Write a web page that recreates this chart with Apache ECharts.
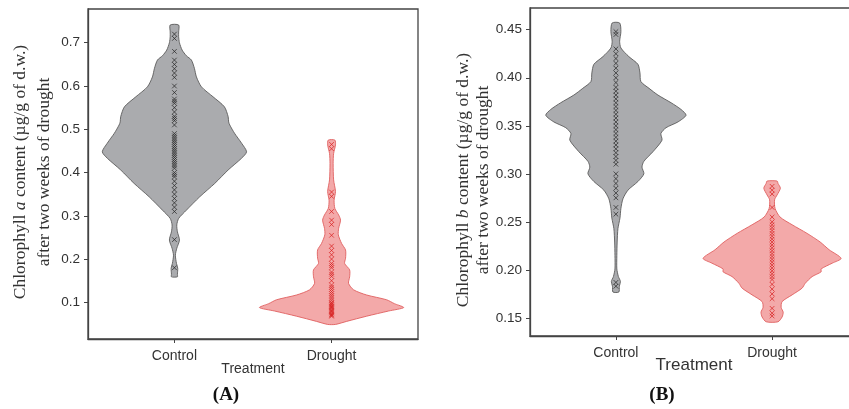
<!DOCTYPE html>
<html>
<head>
<meta charset="utf-8">
<script src="https://cdn.jsdelivr.net/npm/echarts@6/dist/echarts.min.js"></script>
<style>
html,body{margin:0;padding:0;background:#fff;}
#chart{width:849px;height:409px;}
</style>
</head>
<body>
<div id="chart"></div>
<script>
// ---------- DATA ----------
const categories = ['Control', 'Drought'];
const yTicksA = [0.1, 0.2, 0.3, 0.4, 0.5, 0.6, 0.7];
const yTicksB = [0.15, 0.20, 0.25, 0.30, 0.35, 0.40, 0.45];

// violin outlines: [value, half-width in category units]
const violinA_control = [
  [0.741,0.027],[0.725,0.027],[0.714,0.027],[0.700,0.032],[0.683,0.049],[0.670,0.076],
  [0.660,0.108],[0.641,0.127],[0.621,0.140],[0.598,0.172],[0.575,0.246],[0.552,0.318],
  [0.529,0.342],[0.517,0.345],[0.510,0.352],[0.491,0.382],[0.468,0.427],[0.448,0.459],
  [0.433,0.427],[0.406,0.342],[0.375,0.257],[0.344,0.161],[0.313,0.076],[0.294,0.027],
  [0.279,0.015],[0.263,0.019],[0.244,0.032],[0.225,0.015],[0.209,0.006],[0.190,0.013],
  [0.179,0.021],[0.165,0.019],[0.159,0.019]
];
const violinA_drought = [
  [0.475,0.021],[0.464,0.025],[0.444,0.013],[0.421,0.010],[0.383,0.013],[0.356,0.025],
  [0.336,0.016],[0.317,0.021],[0.302,0.045],[0.290,0.057],[0.271,0.045],[0.256,0.043],
  [0.236,0.064],[0.221,0.089],[0.202,0.089],[0.190,0.083],[0.175,0.115],[0.159,0.115],
  [0.144,0.108],[0.129,0.140],[0.117,0.223],[0.106,0.350],[0.097,0.400],[0.088,0.459],
  [0.080,0.363],[0.068,0.223],[0.056,0.096],[0.049,0.025]
];
const violinB_control = [
  [0.457,0.024],[0.448,0.032],[0.438,0.024],[0.431,0.032],[0.422,0.083],[0.414,0.141],
  [0.405,0.154],[0.396,0.160],[0.389,0.212],[0.382,0.269],[0.374,0.353],[0.367,0.417],
  [0.361,0.449],[0.354,0.397],[0.348,0.321],[0.342,0.288],[0.335,0.295],[0.323,0.237],
  [0.313,0.179],[0.307,0.167],[0.300,0.179],[0.292,0.141],[0.283,0.077],[0.274,0.045],
  [0.264,0.032],[0.254,0.026],[0.243,0.013],[0.229,0.008],[0.215,0.006],[0.201,0.006],
  [0.193,0.016],[0.188,0.029],[0.183,0.022],[0.177,0.019]
];
const violinB_drought = [
  [0.2925,0.032],[0.290,0.038],[0.285,0.053],[0.278,0.032],[0.273,0.016],[0.264,0.019],
  [0.255,0.051],[0.247,0.128],[0.238,0.224],[0.229,0.308],[0.221,0.365],[0.212,0.442],
  [0.207,0.385],[0.201,0.314],[0.198,0.314],[0.193,0.256],[0.186,0.212],[0.181,0.192],
  [0.174,0.128],[0.167,0.064],[0.161,0.058],[0.156,0.071],[0.151,0.064],[0.146,0.038]
];

// individual observations
const pointsA_control = [0.72,0.71,0.68,0.66,0.65,0.64,0.63,0.62,0.60,0.585,0.57,0.565,0.56,0.55,0.54,
  0.53,0.525,0.52,0.51,0.49,0.485,0.48,0.475,0.47,0.465,0.46,0.455,0.45,0.445,0.44,0.435,0.43,0.425,
  0.42,0.415,0.41,0.40,0.395,0.39,0.38,0.37,0.36,0.35,0.34,0.33,0.32,0.31,0.245,0.18];
const pointsA_drought = [0.465,0.455,0.355,0.345,0.31,0.29,0.28,0.255,0.23,0.22,0.21,0.20,0.19,0.185,
  0.18,0.17,0.165,0.16,0.15,0.14,0.135,0.13,0.125,0.12,0.115,0.11,0.105,0.10,0.098,0.095,0.092,0.09,
  0.088,0.085,0.082,0.08,0.078,0.075,0.072,0.07,0.068];
const pointsB_control = [0.448,0.445,0.43,0.425,0.42,0.415,0.41,0.405,0.40,0.395,0.39,0.386,0.382,
  0.378,0.374,0.37,0.366,0.362,0.358,0.354,0.35,0.346,0.342,0.338,0.334,0.33,0.326,0.322,0.318,0.314,
  0.31,0.30,0.295,0.29,0.285,0.28,0.275,0.265,0.258,0.187,0.183];
const pointsB_drought = [0.287,0.283,0.279,0.265,0.255,0.25,0.247,0.244,0.241,0.238,0.235,0.232,0.229,
  0.226,0.223,0.22,0.217,0.214,0.211,0.208,0.205,0.202,0.199,0.196,0.193,0.19,0.185,0.18,0.175,0.17,
  0.16,0.155,0.152];

// ---------- CHART ----------
const chart = echarts.init(document.getElementById('chart'), null, {renderer: 'canvas'});
const AX = '#444';
const sans = '"Liberation Sans", Arial, sans-serif';
const serif = '"Liberation Serif", "Times New Roman", serif';

function violinSeries(gi, center, profile, fill, stroke) {
  return {
    type: 'custom', xAxisIndex: gi, yAxisIndex: gi, silent: true, z: 2,
    data: [[center]],
    renderItem: function (params, api) {
      const c = api.value(0);
      const pts = [];
      for (let i = 0; i < profile.length; i++) pts.push(api.coord([c + profile[i][1], profile[i][0]]));
      for (let i = profile.length - 1; i >= 0; i--) pts.push(api.coord([c - profile[i][1], profile[i][0]]));
      return {type: 'polygon', shape: {points: pts, smooth: 0.25},
        style: {fill: fill, stroke: stroke, lineWidth: 0.9}};
    }
  };
}
function pointSeries(gi, center, values, color) {
  return {
    type: 'custom', xAxisIndex: gi, yAxisIndex: gi, silent: true, z: 3,
    data: values.map(v => [center, v]),
    renderItem: function (params, api) {
      const p = api.coord([api.value(0), api.value(1)]);
      const s = 2.3;
      return {type: 'group', children: [
        {type: 'line', shape: {x1: p[0]-s, y1: p[1]-s, x2: p[0]+s, y2: p[1]+s}, style: {stroke: color, lineWidth: 0.9}},
        {type: 'line', shape: {x1: p[0]-s, y1: p[1]+s, x2: p[0]+s, y2: p[1]-s}, style: {stroke: color, lineWidth: 0.9}}
      ]};
    }
  };
}
function xAxisCfg(gi, nameSize, nameGap) {
  return {
    type: 'value', gridIndex: gi, min: 0.45, max: 2.55,
    splitLine: {show: false},
    axisLine: {show: true, onZero: false, lineStyle: {color: AX, width: 1.3}},
    axisTick: {show: true, length: 4, customValues: [1, 2], lineStyle: {color: AX}},
    axisLabel: {customValues: [1, 2], margin: 10, fontFamily: sans, fontSize: 14, color: '#333',
      formatter: v => categories[Math.round(v) - 1]},
    name: 'Treatment', nameLocation: 'middle', nameGap: nameGap, nameMoveOverlap: false,
    nameTextStyle: {fontFamily: sans, fontSize: nameSize, color: '#333'}
  };
}
function yAxisCfg(gi, min, max, ticks, dec) {
  return {
    type: 'value', gridIndex: gi, min: min, max: max,
    splitLine: {show: false},
    axisLine: {show: true, onZero: false, lineStyle: {color: AX, width: 1.3}},
    axisTick: {show: true, length: 4, customValues: ticks, lineStyle: {color: AX}},
    axisLabel: {customValues: ticks, margin: 8, fontFamily: sans, fontSize: 13.5, color: '#333',
      formatter: v => v.toFixed(dec)}
  };
}
function yLabel(x, y, line) {
  return {type: 'text', x: x, y: y, rotation: Math.PI / 2, silent: true,
    style: {text: line, fontFamily: serif, fontSize: 17.5, fill: '#333', align: 'center', verticalAlign: 'middle'}};
}
function yLabelRich(x, y, pre, it, post) {
  return {type: 'text', x: x, y: y, rotation: Math.PI / 2, silent: true,
    style: {text: pre + '{i|' + it + '}' + post, fontFamily: serif, fontSize: 17.5, fill: '#333',
      align: 'center', verticalAlign: 'middle',
      rich: {i: {fontStyle: 'italic', fontFamily: serif, fontSize: 17.5, fill: '#333'}}}};
}

chart.setOption({
  animation: false,
  backgroundColor: '#fff',
  grid: [
    {left: 88, top: 9, width: 330, height: 330, show: true, borderColor: AX, borderWidth: 1.3, outerBoundsMode: 'none', containLabel: false},
    {left: 530, top: 8, width: 328, height: 328, show: true, borderColor: AX, borderWidth: 1.3, outerBoundsMode: 'none', containLabel: false}
  ],
  xAxis: [xAxisCfg(0, 14, 23), xAxisCfg(1, 17, 21)],
  yAxis: [yAxisCfg(0, 0.0153, 0.778, yTicksA, 1), yAxisCfg(1, 0.1312, 0.4726, yTicksB, 2)],
  series: [
    violinSeries(0, 1, violinA_control, '#aaabae', '#5b5b5b'),
    violinSeries(0, 2, violinA_drought, '#f3a9a9', '#e06060'),
    violinSeries(1, 1, violinB_control, '#aaabae', '#5b5b5b'),
    violinSeries(1, 2, violinB_drought, '#f3a9a9', '#e06060'),
    pointSeries(0, 1, pointsA_control, 'rgba(35,35,35,0.8)'),
    pointSeries(0, 2, pointsA_drought, 'rgba(215,30,30,0.8)'),
    pointSeries(1, 1, pointsB_control, 'rgba(35,35,35,0.8)'),
    pointSeries(1, 2, pointsB_drought, 'rgba(215,30,30,0.8)')
  ],
  graphic: [
    yLabelRich(20, 172, 'Chlorophyll ', 'a', ' content (µg/g of d.w.)'),
    yLabel(44, 172, 'after two weeks of drought'),
    yLabelRich(463, 180, 'Chlorophyll ', 'b', ' content (µg/g of d.w.)'),
    yLabel(483, 180, 'after two weeks of drought'),
    {type: 'text', x: 226, y: 395, silent: true,
      style: {text: '(A)', fontFamily: serif, fontSize: 19, fontWeight: 'bold', fill: '#111', align: 'center', verticalAlign: 'middle'}},
    {type: 'text', x: 662, y: 395, silent: true,
      style: {text: '(B)', fontFamily: serif, fontSize: 19, fontWeight: 'bold', fill: '#111', align: 'center', verticalAlign: 'middle'}}
  ]
});
</script>
</body>
</html>
